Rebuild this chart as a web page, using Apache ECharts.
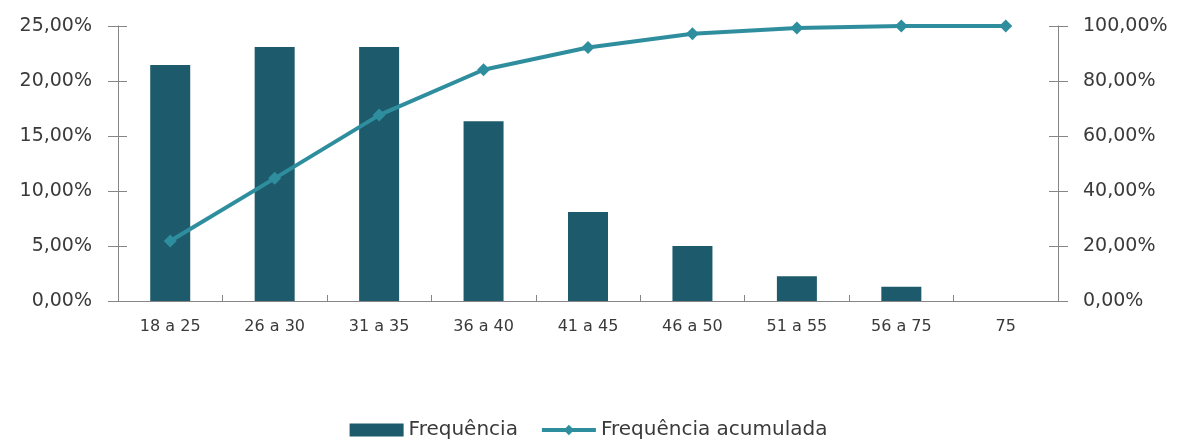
<!DOCTYPE html>
<html>
<head>
<meta charset="utf-8">
<script src="https://cdn.jsdelivr.net/npm/echarts@6/dist/echarts.min.js"></script>
<style>
  html, body { margin: 0; padding: 0; background: #ffffff; }
  #chart { width: 1177px; height: 441px; }
</style>
</head>
<body>
<div id="chart"></div>
<script>
// faixas etarias e frequencias
var categorias = ['18 a 25', '26 a 30', '31 a 35', '36 a 40', '41 a 45', '46 a 50', '51 a 55', '56 a 75', '75'];
var frequencia = [21.45, 23.1, 23.1, 16.35, 8.1, 5.0, 2.25, 1.3, 0];
var acumulada = [21.8, 44.6, 67.6, 84.1, 92.2, 97.2, 99.3, 100, 100];
var ticksEsq = [0, 5, 10, 15, 20, 25];
var ticksDir = [0, 20, 40, 60, 80, 100];

var corEixo = '#868686';
var corTexto = '#3a3a3a';

function pct(v) {
	return v.toFixed(2).replace('.', ',') + '%';
}

// eixo "fantasma" so para desenhar a parte interna dos ticks (cruzando a linha)
function eixoInterno(pos, min, max, step) {
	return {
		type: 'value',
		position: pos,
		min: min,
		max: max,
		interval: step,
		axisLine: { show: false },
		axisTick: { show: true, inside: true, length: 9, lineStyle: { color: corEixo } },
		axisLabel: { show: false },
		splitLine: { show: false }
	};
}

var myChart = echarts.init(document.getElementById('chart'));
var option = {
	animation: false,
	textStyle: { fontFamily: 'DejaVu Sans' },
	grid: {
		left: 118,
		right: 119,
		top: 26,
		bottom: 140
	},
	legend: {
		top: 415,
		left: 'center',
		itemGap: 22,
		itemWidth: 54,
		itemHeight: 13,
		textStyle: { fontSize: 20, color: corTexto, fontFamily: 'DejaVu Sans' },
		data: [
			{ name: 'Frequência', icon: 'rect' },
			{ name: 'Frequência acumulada', lineStyle: { width: 4 } }
		]
	},
	xAxis: [
		{
			type: 'category',
			data: categorias,
			axisLine: { lineStyle: { color: corEixo, width: 1 } },
			axisTick: { length: 7, lineStyle: { color: corEixo } },
			axisLabel: { fontSize: 16, color: corTexto, margin: 18 }
		},
		{
			type: 'category',
			data: categorias,
			position: 'bottom',
			axisLine: { show: true, lineStyle: { opacity: 0 } },
			axisTick: { show: true, inside: true, length: 6, lineStyle: { color: corEixo } },
			axisLabel: { show: false }
		}
	],
	yAxis: [
		{
			type: 'value',
			min: ticksEsq[0],
			max: ticksEsq[ticksEsq.length - 1],
			interval: 5,
			axisLine: { show: true, lineStyle: { color: corEixo } },
			axisTick: { show: true, length: 10, lineStyle: { color: corEixo } },
			splitLine: { show: false },
			axisLabel: { fontSize: 19, color: corTexto, margin: 26, formatter: pct }
		},
		{
			type: 'value',
			min: ticksDir[0],
			max: ticksDir[ticksDir.length - 1],
			interval: 20,
			position: 'right',
			axisLine: { show: true, lineStyle: { color: corEixo } },
			axisTick: { show: true, length: 10, lineStyle: { color: corEixo } },
			splitLine: { show: false },
			axisLabel: { fontSize: 19, color: corTexto, margin: 25, formatter: pct }
		},
		eixoInterno('left', 0, 25, 5),
		eixoInterno('right', 0, 100, 20)
	],
	series: [
		{
			name: 'Frequência',
			type: 'bar',
			data: frequencia,
			barWidth: 40,
			itemStyle: { color: '#1d5a6c' }
		},
		{
			name: 'Frequência acumulada',
			type: 'line',
			yAxisIndex: 1,
			data: acumulada,
			symbol: 'diamond',
			symbolSize: 13,
			lineStyle: { color: '#2f8e9e', width: 4 },
			itemStyle: { color: '#2f8e9e' }
		}
	]
};
myChart.setOption(option);
</script>
</body>
</html>
